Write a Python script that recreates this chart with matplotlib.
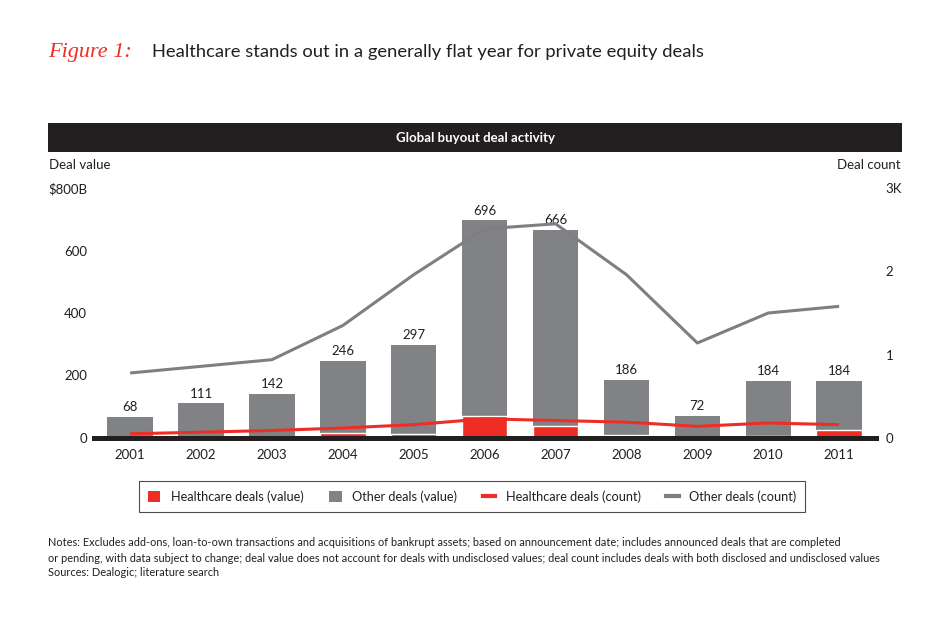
import matplotlib

matplotlib.use("Agg")
import matplotlib.pyplot as plt
from matplotlib.patches import Rectangle, Patch
from matplotlib.lines import Line2D

# data
years = ["2001", "2002", "2003", "2004", "2005", "2006", "2007", "2008", "2009", "2010", "2011"]
total_value = [68, 111, 142, 246, 297, 696, 666, 186, 72, 184, 184]
healthcare_value = [0, 0, 0, 16, 13, 72, 40, 10, 0, 7, 25]
other_count = [0.78, 0.86, 0.94, 1.35, 1.96, 2.51, 2.57, 1.96, 1.14, 1.50, 1.58]
healthcare_count = [0.05, 0.07, 0.09, 0.12, 0.16, 0.23, 0.21, 0.19, 0.14, 0.18, 0.16]
value_ticks = [0, 200, 400, 600, 800]
value_tick_labels = ["0", "200", "400", "600", "$800B"]
count_ticks = [0, 1, 2, 3]
count_tick_labels = ["0", "1", "2", "3K"]

RED = "#ee2e24"
GRAY = "#818285"
LINE_GRAY = "#7f7f80"
DARK = "#231f20"

plt.rcParams["font.family"] = ["Lato", "DejaVu Sans"]

W, H = 950, 626
fig = plt.figure(figsize=(W / 100, H / 100), dpi=100)

# title
fig.text(48 / W, 1 - 52 / H, "Figure 1:", color=RED, fontsize=16, style="italic",
         family="Liberation Serif", va="center", ha="left")
fig.text(152 / W, 1 - 52 / H,
         "Healthcare stands out in a generally flat year for private equity deals",
         color=DARK, fontsize=13.2, va="center", ha="left")

# header band
fig.patches.append(Rectangle((48 / W, 1 - 152 / H), (902 - 48) / W, 29 / H,
                             transform=fig.transFigure, facecolor=DARK, edgecolor="none"))
fig.text(475 / W, 1 - 137.5 / H, "Global buyout deal activity", color="white",
         fontsize=9.5, fontweight="bold", ha="center", va="center")

fig.text(49 / W, 1 - 165 / H, "Deal value", color=DARK, fontsize=9.5, va="center", ha="left")
fig.text(901 / W, 1 - 165 / H, "Deal count", color=DARK, fontsize=9.5, va="center", ha="right")

ax = fig.add_axes([94 / W, 1 - 438 / H, (876 - 94) / W, 250 / H])
x = list(range(len(years)))
ax.bar(x, total_value, width=0.64, color=GRAY, zorder=1)
edges = ["white" if v > 0 else "none" for v in healthcare_value]
ax.bar(x, healthcare_value, width=0.64, color=RED, edgecolor=edges, linewidth=1.0, zorder=1.5)
for xi, v in zip(x, total_value):
    ax.text(xi, v + 12, str(v), ha="center", va="bottom", fontsize=9.5, color=DARK)

ax.set_xlim(-0.51, 10.52)
ax.set_ylim(0, 800)
ax.set_xticks(x)
ax.set_xticklabels(years, fontsize=9.5, color=DARK)
ax.set_yticks(value_ticks)
ax.set_yticklabels(value_tick_labels, fontsize=9.5, color=DARK)
ax.tick_params(axis="both", length=0)
ax.tick_params(axis="y", pad=5)
ax.tick_params(axis="x", pad=8)
for side in ["top", "left", "right"]:
    ax.spines[side].set_visible(False)
ax.spines["bottom"].set_color(DARK)
ax.spines["bottom"].set_linewidth(3.6)
ax.spines["bottom"].set_zorder(3)

ax2 = ax.twinx()
ax2.plot(x, other_count, color=LINE_GRAY, linewidth=2.2, solid_capstyle="butt")
ax2.plot(x, healthcare_count, color=RED, linewidth=2.2, solid_capstyle="butt")
ax2.set_ylim(0, 3)
ax2.set_yticks(count_ticks)
ax2.set_yticklabels(count_tick_labels, fontsize=9.5, color=DARK)
ax2.tick_params(axis="y", length=0, pad=7)
for side in ["top", "left", "right", "bottom"]:
    ax2.spines[side].set_visible(False)

handles = [
    Patch(facecolor=RED, edgecolor="none"),
    Patch(facecolor=GRAY, edgecolor="none"),
    Line2D([0], [0], color=RED, linewidth=3),
    Line2D([0], [0], color=LINE_GRAY, linewidth=3),
]
labels = ["Healthcare deals (value)", "Other deals (value)",
          "Healthcare deals (count)", "Other deals (count)"]
leg = fig.legend(handles, labels, loc="center", bbox_to_anchor=(472 / W, 1 - 496.5 / H),
                 ncol=4, fontsize=9.2, frameon=True, fancybox=False, handlelength=1.0,
                 handleheight=1.0, columnspacing=2.0, handletextpad=0.8,
                 borderpad=0.7)
leg.get_frame().set_edgecolor(DARK)
leg.get_frame().set_linewidth(0.8)
for t in leg.get_texts():
    t.set_color(DARK)

notes = [
    "Notes: Excludes add-ons, loan-to-own transactions and acquisitions of bankrupt assets; based on announcement date; includes announced deals that are completed",
    "or pending, with data subject to change; deal value does not account for deals with undisclosed values; deal count includes deals with both disclosed and undisclosed values",
    "Sources: Dealogic; literature search",
]
for i, line in enumerate(notes):
    fig.text(48 / W, 1 - (543 + 15 * i) / H, line, fontsize=7.9, color=DARK, va="center", ha="left")

fig.savefig("out.png", dpi=100)
